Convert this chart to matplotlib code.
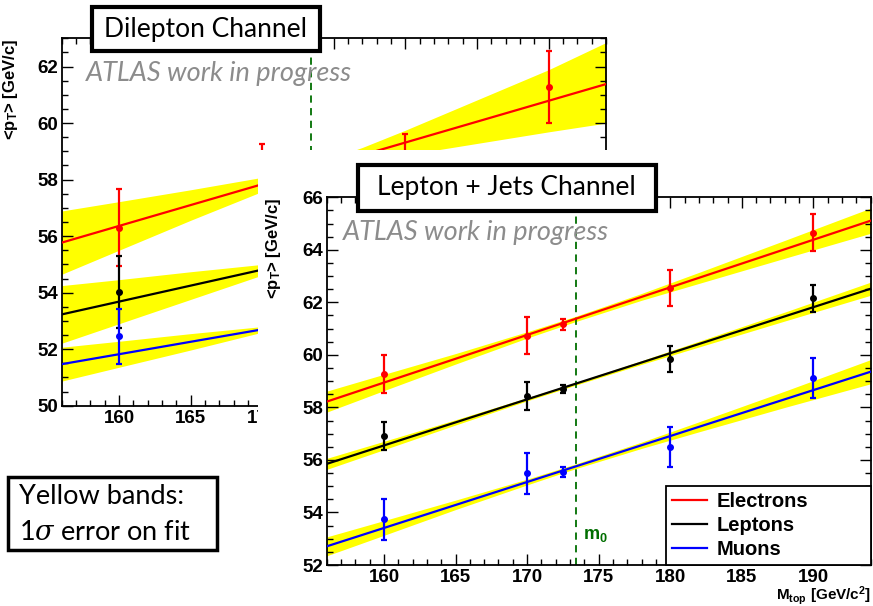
import matplotlib
matplotlib.use("Agg")
import matplotlib.pyplot as plt
from matplotlib.patches import Rectangle
from matplotlib.lines import Line2D
from matplotlib.ticker import MultipleLocator

# ---------------- data ----------------
XLIM = (156, 194)
M0 = 173.4

# Dilepton channel (back panel)
dil_x_e = [160, 170, 180, 190]
dil_y_e = [56.30, 57.90, 58.30, 61.28]
dil_err_e = [1.35, 1.35, 1.30, 1.28]
dil_x_l = [160]
dil_y_l = [54.02]
dil_err_l = [1.27]
dil_x_m = [160]
dil_y_m = [52.46]
dil_err_m = [0.97]
dil_fit_x = [156, 194]
dil_fit_e = [55.77, 61.38]
dil_fit_l = [53.23, 57.53]
dil_fit_m = [51.47, 54.81]
dil_band_x = [156, 160, 165, 170, 173.4, 177, 180, 185, 190, 194]
dil_band_e_hi = [56.89, 57.22, 57.64, 58.08, 58.49, 59.14, 59.75, 60.82, 61.89, 62.85]
dil_band_e_lo = [54.65, 55.50, 56.56, 57.58, 58.19, 58.60, 58.87, 59.28, 59.69, 60.00]
dil_band_l_hi = [54.25, 54.46, 54.74, 55.00, 55.34, 55.86, 56.35, 57.21, 58.08, 58.79]
dil_band_l_lo = [52.21, 52.90, 53.76, 54.62, 55.06, 55.36, 55.55, 55.81, 56.08, 56.27]
dil_band_m_hi = [52.07, 52.28, 52.55, 52.80, 53.08, 53.47, 53.82, 54.44, 55.05, 55.56]
dil_band_m_lo = [50.87, 51.36, 51.97, 52.60, 52.92, 53.17, 53.34, 53.60, 53.87, 54.06]

# Lepton + Jets channel (front panel)
lj_x = [160, 170, 172.5, 180, 190]
lj_y_e = [59.27, 60.73, 61.16, 62.56, 64.65]
lj_err_e = [0.72, 0.70, 0.21, 0.68, 0.70]
lj_y_l = [56.91, 58.43, 58.69, 59.84, 62.15]
lj_err_l = [0.53, 0.52, 0.15, 0.50, 0.50]
lj_y_m = [53.74, 55.49, 55.55, 56.48, 59.11]
lj_err_m = [0.78, 0.78, 0.20, 0.76, 0.76]
lj_fit_x = [156, 194]
lj_fit_e = [58.22, 65.11]
lj_fit_l = [55.85, 62.52]
lj_fit_m = [52.71, 59.36]
lj_band_x = [156, 160, 165, 170, 173.4, 178, 182, 188, 194]
lj_band_e_hi = [58.62, 59.26, 60.05, 60.88, 61.47, 62.34, 63.14, 64.36, 65.59]
lj_band_e_lo = [57.82, 58.64, 59.65, 60.64, 61.27, 62.08, 62.72, 63.68, 64.63]
lj_band_l_hi = [56.06, 56.71, 57.53, 58.37, 58.95, 59.78, 60.52, 61.63, 62.77]
lj_band_l_lo = [55.64, 56.39, 57.33, 58.25, 58.85, 59.64, 60.30, 61.29, 62.27]
lj_band_m_hi = [53.07, 53.69, 54.47, 55.27, 55.85, 56.68, 57.45, 58.62, 59.82]
lj_band_m_lo = [52.35, 53.13, 54.11, 55.05, 55.67, 56.44, 57.07, 58.00, 58.90]

# back-panel x tick labels visible beside the front canvas
dil_xtick_vals = [160, 165, 170]

series = ["Electrons", "Leptons", "Muons"]
colors = {"Electrons": "#ff0000", "Leptons": "#000000", "Muons": "#0000ff"}

# ---------------- style ----------------
plt.rcParams["mathtext.fontset"] = "custom"
plt.rcParams["mathtext.rm"] = "Liberation Sans:bold"
plt.rcParams["mathtext.bf"] = "Liberation Sans:bold"
plt.rcParams["mathtext.it"] = "DejaVu Serif:italic"

W, H = 873, 606
fig = plt.figure(figsize=(W / 100, H / 100), dpi=100)


def rect(l, t, r, b):
    return [l / W, 1 - b / H, (r - l) / W, (b - t) / H]


def style_axes(ax, ylim):
    ax.set_xlim(*XLIM)
    ax.set_ylim(*ylim)
    ax.xaxis.set_major_locator(MultipleLocator(5))
    ax.xaxis.set_minor_locator(MultipleLocator(1))
    ax.yaxis.set_major_locator(MultipleLocator(2))
    ax.yaxis.set_minor_locator(MultipleLocator(0.5))
    ax.tick_params(which="both", direction="in", top=True, right=True,
                   colors="black", width=1.0)
    ax.tick_params(which="major", length=8, labelsize=13.5, pad=2.5)
    ax.tick_params(which="minor", length=4)
    ax.tick_params(axis="x", which="major", pad=3)
    for lab in ax.get_xticklabels() + ax.get_yticklabels():
        lab.set_fontfamily("Liberation Sans")
        lab.set_fontweight("bold")
    for s in ax.spines.values():
        s.set_linewidth(1.3)


def draw_panel(ax, fit_x, fits, band_x, bands, pts):
    for name in series:
        hi, lo = bands[name]
        ax.fill_between(band_x, lo, hi, color="#ffff00", lw=0, zorder=1)
    ax.axvline(M0, color="#006e00", lw=1.3, ls=(0, (4, 3)), zorder=2)
    for name in series:
        ax.plot(fit_x, fits[name], color=colors[name], lw=1.6, zorder=3)
    for name in series:
        x, y, e = pts[name]
        ax.errorbar(x, y, yerr=e, fmt="o", color=colors[name], ms=4,
                    elinewidth=1.6, capsize=2.5, capthick=1.6, zorder=4)


# ---------- back panel: dilepton ----------
ax1 = fig.add_axes(rect(61.7, 38.3, 606, 405.7))
ax1.set_zorder(0)
style_axes(ax1, (50, 63))
draw_panel(ax1, dil_fit_x,
           {"Electrons": dil_fit_e, "Leptons": dil_fit_l, "Muons": dil_fit_m},
           dil_band_x,
           {"Electrons": (dil_band_e_hi, dil_band_e_lo),
            "Leptons": (dil_band_l_hi, dil_band_l_lo),
            "Muons": (dil_band_m_hi, dil_band_m_lo)},
           {"Electrons": (dil_x_e, dil_y_e, dil_err_e),
            "Leptons": (dil_x_l, dil_y_l, dil_err_l),
            "Muons": (dil_x_m, dil_y_m, dil_err_m)})
# only the labels beside the front canvas are shown; the rest lie under it
ax1.xaxis.set_major_formatter(
    matplotlib.ticker.FuncFormatter(
        lambda v, p: f"{v:.0f}" if round(v) in dil_xtick_vals else ""))
clip_rect = Rectangle((0, 0), 258, H, transform=None)
fig.canvas.draw()
for lab in ax1.get_xticklabels():
    lab.set_clip_path(clip_rect)
ax1.set_ylabel(r"<p$_\mathrm{T}$> [GeV/c]", fontfamily="Liberation Sans",
               fontweight="bold", fontsize=12, loc="top")
ax1.yaxis.set_label_coords(-0.077, 1.0)
ax1.text(0.045, 0.905, "ATLAS work in progress", transform=ax1.transAxes,
         fontfamily="Lato", style="italic", fontsize=19.5, color="#8c8c8c",
         va="center", ha="left", zorder=6)

# white cover (front canvas)
fig.add_artist(Rectangle((258 / W, 0), 1 - 258 / W, 1 - 150 / H,
                         transform=fig.transFigure, facecolor="white",
                         edgecolor="none", zorder=1))

# ---------- front panel: lepton + jets ----------
ax2 = fig.add_axes(rect(326.7, 197.3, 870.7, 565))
ax2.set_zorder(2)
style_axes(ax2, (52, 66))
draw_panel(ax2, lj_fit_x,
           {"Electrons": lj_fit_e, "Leptons": lj_fit_l, "Muons": lj_fit_m},
           lj_band_x,
           {"Electrons": (lj_band_e_hi, lj_band_e_lo),
            "Leptons": (lj_band_l_hi, lj_band_l_lo),
            "Muons": (lj_band_m_hi, lj_band_m_lo)},
           {"Electrons": (lj_x, lj_y_e, lj_err_e),
            "Leptons": (lj_x, lj_y_l, lj_err_l),
            "Muons": (lj_x, lj_y_m, lj_err_m)})
ax2.set_ylabel(r"<p$_\mathrm{T}$> [GeV/c]", fontfamily="Liberation Sans",
               fontweight="bold", fontsize=12, loc="top")
ax2.yaxis.set_label_coords(-0.080, 1.0)
ax2.set_xlabel(r"M$_\mathrm{top}$ [GeV/c$^\mathrm{2}$]",
               fontfamily="Liberation Sans", fontweight="bold",
               fontsize=11, loc="right")
ax2.xaxis.set_label_coords(1.0, -0.053)
ax2.text(0.03, 0.905, "ATLAS work in progress", transform=ax2.transAxes,
         fontfamily="Lato", style="italic", fontsize=19.5, color="#8c8c8c",
         va="center", ha="left", zorder=6)
ax2.text(M0 + 0.5, 53.14, r"m$_\mathrm{0}$", color="#006e00",
         fontfamily="Liberation Sans", fontweight="bold", fontsize=13,
         va="center", ha="left", zorder=6)

handles = [Line2D([], [], color=colors[n], lw=1.6) for n in series]
leg = ax2.legend(handles, series, loc="lower left",
                 bbox_to_anchor=(0.6237, 0.0, 0.3763, 0.2),
                 mode="expand", borderaxespad=0, fancybox=False,
                 edgecolor="black", framealpha=1,
                 prop={"family": "Liberation Sans", "weight": "bold",
                       "size": 14.5},
                 handlelength=1.75, handletextpad=0.45, labelspacing=0.25,
                 borderpad=0.3)
leg.get_frame().set_linewidth(1.3)
leg.set_zorder(10)


# ---------- text boxes ----------
def box(l, t, r, b, text, size, lw=3.0):
    fig.add_artist(Rectangle((l / W, 1 - b / H), (r - l) / W, (b - t) / H,
                             transform=fig.transFigure, facecolor="white",
                             edgecolor="black", lw=lw, zorder=5))
    fig.text((l + r) / 2 / W, 1 - (t + b) / 2 / H, text, ha="center",
             va="center", fontfamily="Lato", fontsize=size, zorder=6)


box(92, 7, 320, 51, "Dilepton Channel", 19)
box(357.5, 165, 656, 210.7, "Lepton + Jets Channel", 19)

fig.add_artist(Rectangle((8 / W, 1 - 550 / H), (217 - 8) / W, (550 - 476.7) / H,
                         transform=fig.transFigure, facecolor="white",
                         edgecolor="black", lw=2.5, zorder=5))
fig.text(19 / W, 1 - 497 / H, "Yellow bands:", ha="left", va="center",
         fontfamily="Lato", fontsize=19.5, zorder=6)
fig.text(19 / W, 1 - 532 / H, r"1$\sigma$ error on fit", ha="left",
         va="center", fontfamily="Lato", fontsize=19.5, zorder=6)

fig.savefig("out.png", dpi=100)
